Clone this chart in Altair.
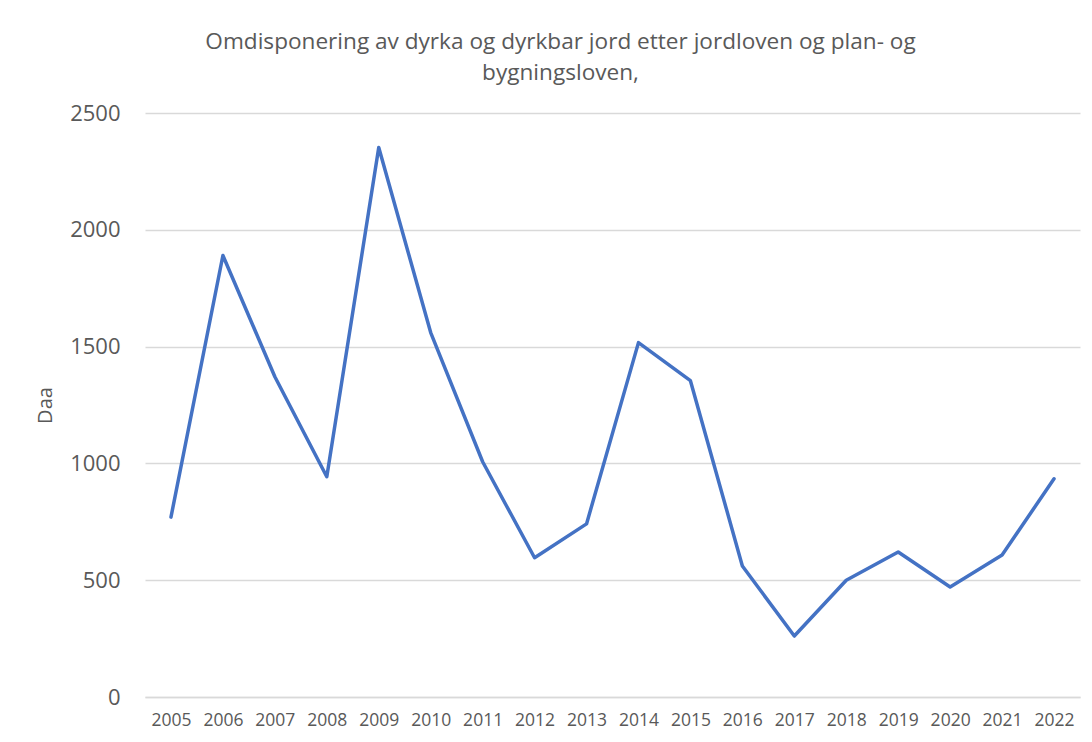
import altair as alt
import pandas as pd

years = [str(y) for y in range(2005, 2023)]
values = [770, 1890, 1371, 943, 2352, 1560, 1007, 596, 741, 1517, 1354, 561, 261, 500, 621, 471, 608, 934]

df = pd.DataFrame({"year": years, "daa": values})

FONT = "Open Sans"
GREY = "#595959"

chart = alt.Chart(df).mark_line(color="#4472C4", strokeWidth=3.5, strokeCap="round", strokeJoin="round").encode(
    x=alt.X("year:O", sort=years,
            scale=alt.Scale(type="point", padding=0.5),
            axis=alt.Axis(title=None, labelAngle=0, ticks=False, domainColor="#d9d9d9",
                          domainWidth=1.3, labelFontSize=17.5, labelColor=GREY,
                          labelFont=FONT, labelPadding=14, grid=False)),
    y=alt.Y("daa:Q", scale=alt.Scale(domain=[0, 2500], nice=False),
            axis=alt.Axis(title="Daa", values=[0, 500, 1000, 1500, 2000, 2500], format="d",
                          ticks=False, domain=False, gridColor="#d9d9d9", gridWidth=1.3,
                          labelFontSize=22, labelColor=GREY, labelFont=FONT, labelPadding=25,
                          titleFont=FONT, titleFontSize=20, titleColor=GREY,
                          titleFontWeight="normal", titleX=-90, titleY=292)),
).properties(
    width=935,
    height=584,
    title=alt.TitleParams(
        text=["Omdisponering av dyrka og dyrkbar jord etter jordloven og plan- og", "bygningsloven,"],
        font=FONT, fontSize=22.6, fontWeight="normal", color=GREY,
        anchor="middle", dx=-52, lineHeight=31, offset=17,
    ),
    autosize=alt.AutoSizeParams(type="none"),
    padding={"left": 137, "top": 105, "right": 4, "bottom": 37},
).configure_view(stroke=None)

chart.save("out.html", embed_options={"renderer": "svg", "actions": False})
